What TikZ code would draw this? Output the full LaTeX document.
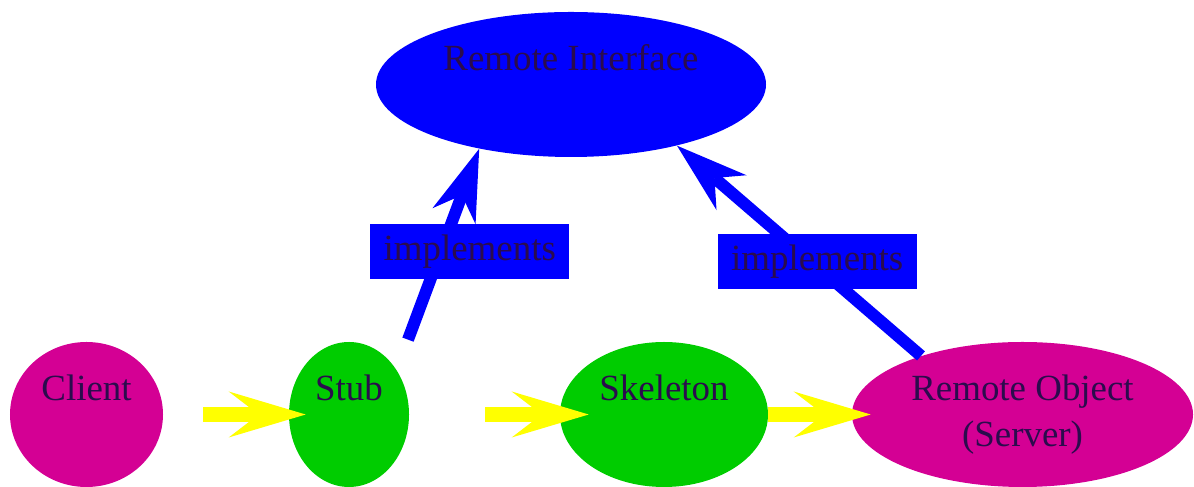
\documentclass[tikz,border=0pt]{standalone}
\usepackage{fontspec}
\setmainfont{Liberation Serif}
\usetikzlibrary{shapes.geometric,arrows.meta}
\definecolor{rmipink}{RGB}{212,0,148}
\definecolor{rmigreen}{RGB}{0,204,0}
\definecolor{rmiblue}{RGB}{0,0,255}
\definecolor{rmiyellow}{RGB}{255,255,0}
\definecolor{rmitext}{RGB}{43,12,77}

\begin{document}
\begin{tikzpicture}[
    obj/.style={ellipse, fill=#1, inner sep=0pt, minimum height=2.9cm, align=center, text=rmitext, font=\fontsize{21}{26.2}\selectfont},
    call/.style={rmiyellow, line width=0.3cm, -{Stealth[length=1.54cm, width=0.92cm, inset=0.6cm, line width=0pt]}},
    impl/.style={rmiblue, line width=0.24cm, -{Stealth[length=1.44cm, width=0.92cm, inset=0.45cm, line width=0pt]}},
    implbox/.style={fill=rmiblue, text=rmitext, minimum width=3.98cm, minimum height=1.1cm, inner sep=0pt, font=\fontsize{21}{26.2}\selectfont}
  ]
  \useasboundingbox (0,0) rectangle (23.88,9.74);
  \node[obj=rmiblue, minimum width=7.8cm] (ri) at (11.42,8.05) {Remote Interface\\\phantom{(}};
  \node[obj=rmipink, minimum width=3.06cm] (client) at (1.73,1.45) {Client\\\phantom{(}};
  \node[obj=rmigreen, minimum width=2.4cm] (stub) at (6.98,1.45) {Stub\\\phantom{(}};
  \node[obj=rmigreen, minimum width=4.16cm] (skel) at (13.28,1.45) {Skeleton\\\phantom{(}};
  \node[obj=rmipink, minimum width=6.82cm] (robj) at (20.45,1.45) {Remote Object\\(Server)};

  \draw[call, shorten <=0.8cm, shorten >=-0.34cm] (client) -- (stub);
  \draw[call, shorten <=1.52cm, shorten >=-0.58cm] (stub) -- (skel);
  \draw[call, shorten >=-0.38cm] (skel) -- (robj);

  \draw[impl] ([shift={(1.18,0.04)}]stub.north) -- (ri.215) node[implbox, pos=0.46, xshift=0.58cm] (lbl1) {implements};
  \draw[impl] (robj.150) -- (ri.330) node[implbox, pos=0.45, xshift=0.12cm] (lbl2) {implements};
\end{tikzpicture}
\end{document}
